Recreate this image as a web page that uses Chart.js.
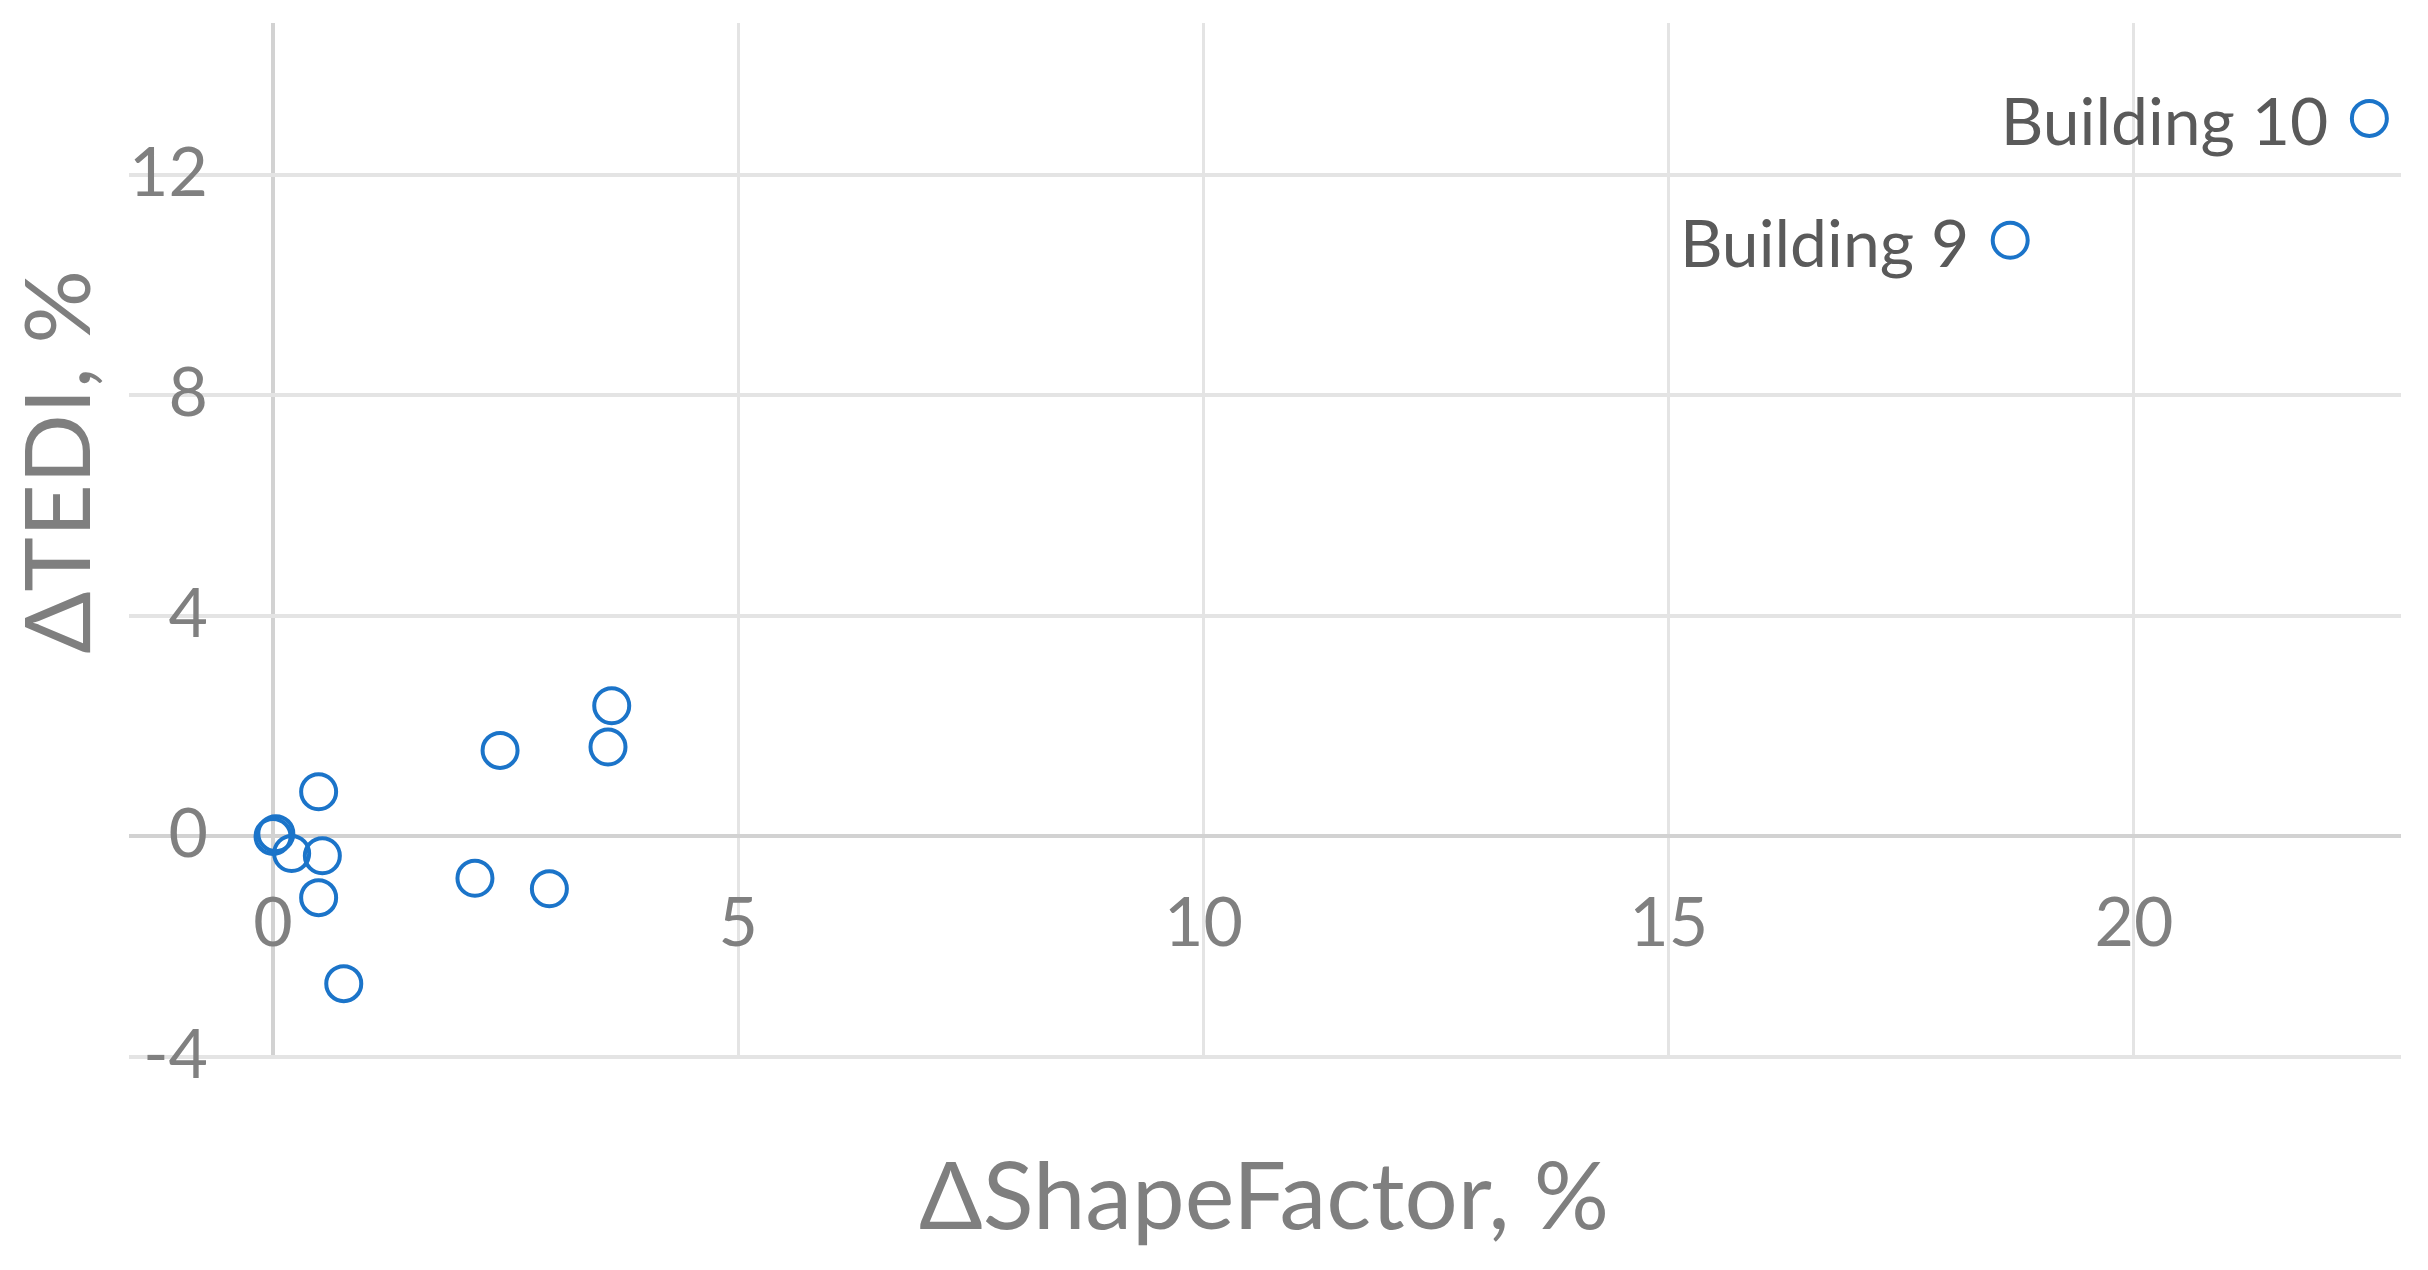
<!DOCTYPE html>
<html>
<head>
<meta charset="utf-8">
<script src="https://cdn.jsdelivr.net/npm/chart.js@4.4.1/dist/chart.umd.min.js"></script>
<style>
html,body{margin:0;padding:0;background:#ffffff;overflow:hidden}
#wrap{width:2428px;height:1270px;position:relative}
</style>
</head>
<body>
<div id="wrap"><canvas id="c" width="2428" height="1270"></canvas></div>
<script>
// ---- data ----
const shapeFactorDelta = [3.64, 3.60, 2.44, 0.49, 0.00, 0.03, 0.20, 0.53, 0.49, 2.17, 2.97, 0.76, 18.67, 22.53];
const tediDelta        = [2.37, 1.62, 1.56, 0.81, 0.00, 0.05, -0.31, -0.35, -1.11, -0.76, -0.95, -2.67, 10.81, 13.02];
const pointLabels      = ['', '', '', '', '', '', '', '', '', '', '', '', 'Building 9', 'Building 10'];
const xTickValues = [0, 5, 10, 15, 20];
const yTickValues = [-4, 0, 4, 8, 12];
const xAxisTitle = 'ΔShapeFactor, %';
const yAxisTitle = 'ΔTEDI, %';

const FONT = 'Lato';
const points = shapeFactorDelta.map((v, i) => ({ x: v, y: tediDelta[i] }));

const textPlugin = {
  id: 'textPlugin',
  afterDatasetsDraw(chart) {
    const { ctx } = chart;
    const xs = chart.scales.x, ys = chart.scales.y;
    ctx.save();
    // y tick labels (drawn inside the plot area, right-aligned)
    ctx.font = '68px ' + FONT;
    ctx.fillStyle = '#808080';
    ctx.textAlign = 'right';
    ctx.textBaseline = 'alphabetic';
    ys.ticks.forEach(t => {
      ctx.fillText(t.label, 208, ys.getPixelForValue(t.value) + 21);
    });
    // x tick labels (next to the zero line)
    const zeroY = ys.getPixelForValue(0);
    ctx.textAlign = 'center';
    xs.ticks.forEach(t => {
      ctx.fillText(t.label, xs.getPixelForValue(t.value), zeroY + 110);
    });
    // point labels
    ctx.font = '66px ' + FONT;
    ctx.fillStyle = '#5a5a5a';
    ctx.textAlign = 'right';
    const meta = chart.getDatasetMeta(0);
    meta.data.forEach((el, i) => {
      if (pointLabels[i]) ctx.fillText(pointLabels[i], el.x - 41, el.y + 26.5);
    });
    // axis titles
    ctx.font = '94px ' + FONT;
    ctx.fillStyle = '#7f7f7f';
    ctx.textAlign = 'center';
    ctx.fillText(xAxisTitle, 1264, 1229);
    ctx.translate(90, 462);
    ctx.rotate(-Math.PI / 2);
    ctx.font = '92px ' + FONT;
    ctx.fillText(yAxisTitle, 0, 0);
    ctx.restore();
  }
};

new Chart(document.getElementById('c'), {
  type: 'scatter',
  data: {
    datasets: [{
      data: points,
      pointStyle: 'circle',
      pointRadius: 17.5,
      pointHoverRadius: 17.5,
      borderWidth: 4,
      borderColor: '#1b74c9',
      backgroundColor: 'rgba(0,0,0,0)'
    }]
  },
  options: {
    responsive: false,
    devicePixelRatio: 1,
    animation: false,
    events: [],
    layout: { padding: { left: 129, right: 27, top: 23, bottom: 213 } },
    plugins: { legend: { display: false }, tooltip: { enabled: false }, title: { display: false } },
    scales: {
      x: {
        type: 'linear',
        min: -1.548,
        max: 22.87,
        afterBuildTicks: s => { s.ticks = xTickValues.map(v => ({ value: v })); },
        ticks: { display: false },
        border: { display: false },
        grid: {
          drawTicks: false,
          color: c => (c.tick && c.tick.value === 0) ? '#d2d2d2' : '#e4e4e4',
          lineWidth: c => (c.tick && c.tick.value === 0) ? 4 : 3
        },
        title: { display: false }
      },
      y: {
        type: 'linear',
        min: -4,
        max: 14.75,
        afterBuildTicks: s => { s.ticks = yTickValues.map(v => ({ value: v })); },
        ticks: { display: false },
        border: { display: false },
        grid: {
          drawTicks: false,
          color: c => (c.tick && c.tick.value === 0) ? '#d2d2d2' : '#e4e4e4',
          lineWidth: 4
        },
        title: { display: false }
      }
    }
  },
  plugins: [textPlugin]
});
</script>
</body>
</html>
